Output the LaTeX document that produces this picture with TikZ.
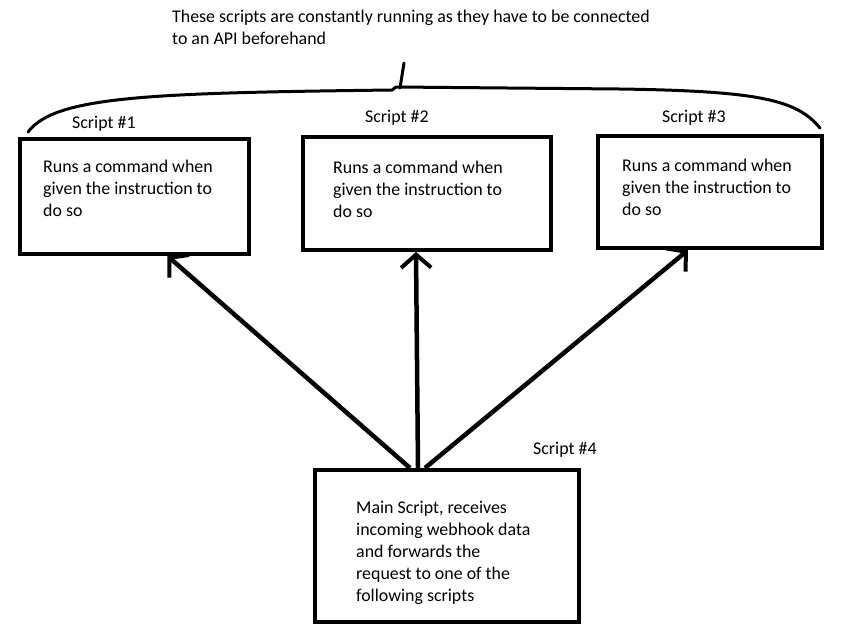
\documentclass[tikz,border=0pt]{standalone}
\usepackage{fontspec}
\setmainfont{Carlito}
\usetikzlibrary{arrows.meta, positioning}

\begin{document}
\begin{tikzpicture}[
        x=1pt, y=-1pt,
        every node/.style={font=\fontsize{17.9}{22}\selectfont},
        scriptbox/.style={rectangle, draw, line width=4pt, inner sep=0pt},
        boxtext/.style={anchor=north west, align=left, inner sep=0pt},
        scripttag/.style={anchor=west, inner sep=0pt},
        call/.style={line width=4.5pt,
        -{Straight Barb[length=13pt, width=30pt, line width=4pt]}},
      ]

      \useasboundingbox (0,0) rectangle (846,633);

      % the three worker scripts
      \node[scriptbox, minimum width=229pt, minimum height=115pt] (s1) at (134.5,196.5) {};
      \node[scriptbox, minimum width=248pt, minimum height=113pt] (s2) at (427,193.5) {};
      \node[scriptbox, minimum width=224pt, minimum height=112pt] (s3) at (710,192) {};

      % main script
      \node[scriptbox, minimum width=264pt, minimum height=152pt] (main) at (447,546) {};

      \node[boxtext] (t1) at (43,160) {Runs a command when\\given the instruction to\\do so};
      \node[boxtext] (t2) at (333,161) {Runs a command when\\given the instruction to\\do so};
      \node[boxtext] (t3) at (622,159) {Runs a command when\\given the instruction to\\do so};
      \node[boxtext] (t4) at (356,501) {Main Script, receives\\incoming webhook data\\and forwards the\\request to one of the\\following scripts};

      \node[scripttag] (l1) at (72,124) {Script \#1};
      \node[scripttag] (l2) at (365,118) {Script \#2};
      \node[scripttag] (l3) at (662,118) {Script \#3};
      \node[scripttag] (l4) at (533,450) {Script \#4};

      \node[boxtext] (note) at (172,10) {These scripts are constantly running as they have to be connected\\to an API beforehand};

      % brace over the worker scripts
      \draw[line width=3pt, line cap=round]
        (28,132) .. controls (55,96) and (150,93) .. (392,90) -- (396,87)
        -- (620,89) .. controls (760,91) and (797,100) .. (820,128);
      \draw[line width=3pt, line cap=round] (400,88) -- (404,63);

      \draw[call] ([xshift=-37pt]main.north) -- ([xshift=33pt]s1.south);
      \draw[call] ([xshift=-29pt]main.north) -- ([xshift=-11pt]s2.south);
      \draw[call] ([xshift=-22pt]main.north) -- ([xshift=-22pt]s3.south);

    \end{tikzpicture}
\end{document}
